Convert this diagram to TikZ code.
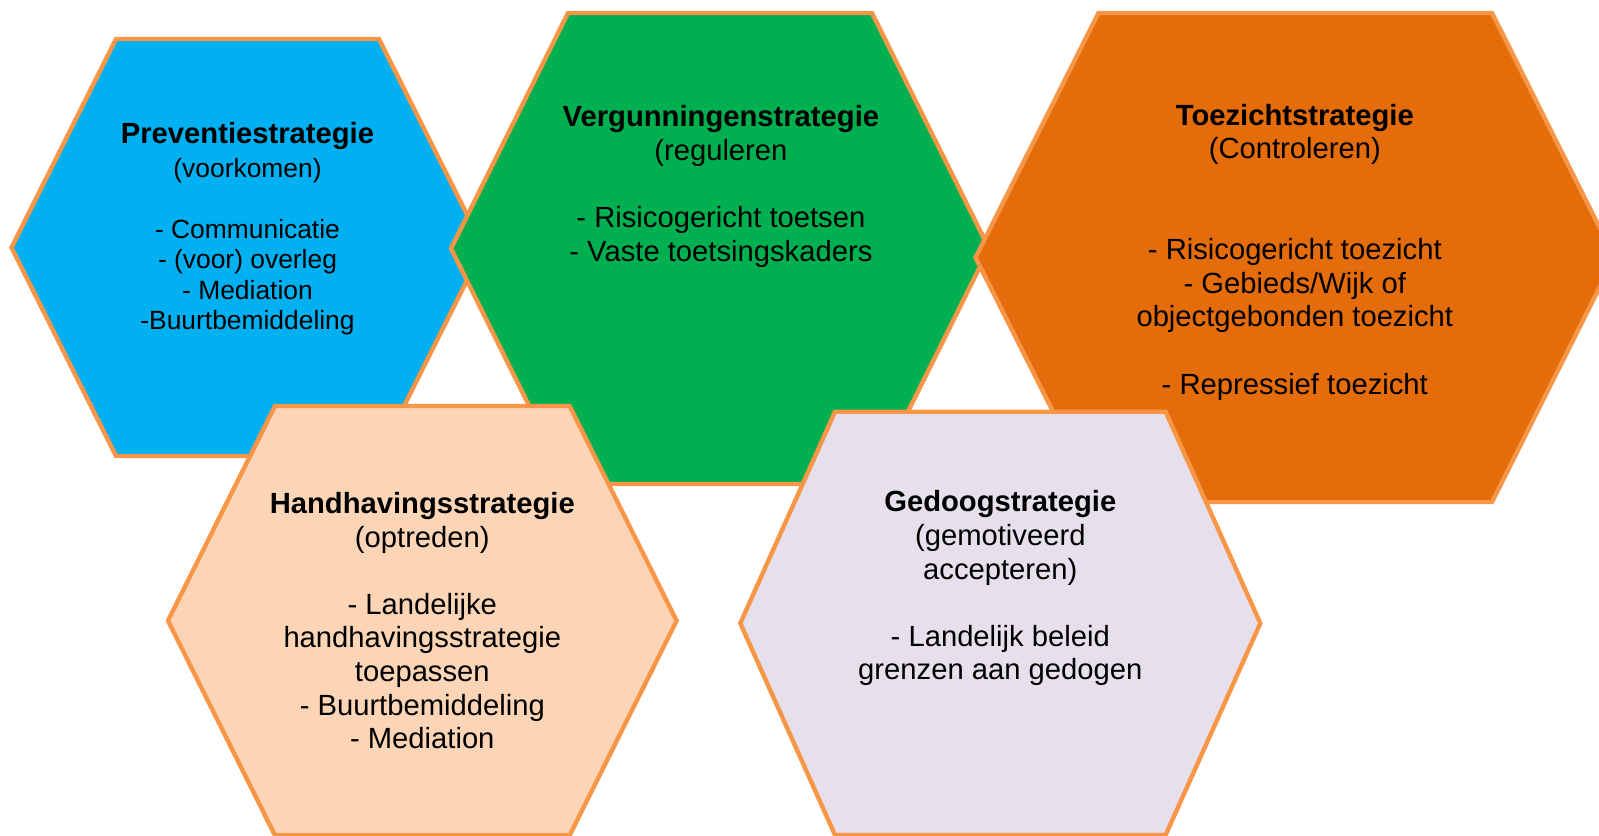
\documentclass[tikz,border=0pt]{standalone}
\usepackage{fontspec}
\setmainfont{Liberation Sans}
\definecolor{prevblue}{HTML}{00B0F0}
\definecolor{vergreen}{HTML}{00B050}
\definecolor{toezorange}{HTML}{E46C0A}
\definecolor{handpeach}{HTML}{FBD5B5}
\definecolor{gedlilac}{HTML}{E5E0EC}
\definecolor{hexline}{HTML}{F79646}
\tikzset{
 hex/.style
  = {draw=hexline, line width=2.2pt, line join=miter},
 txt/.style
  = {anchor=north, inner sep=0pt, align=center,
     font=\fontsize{14.6}{16.8}\selectfont},
 txtsmall/.style
  = {txt, font=\fontsize{13.2}{15.25}\selectfont},
}

\begin{document}
\begin{tikzpicture}[x=0.5pt, y=-0.5pt]
\useasboundingbox (0,0) rectangle (1599,835);
\clip (0,0) rectangle (1599,835);

% Preventie
\draw[hex, fill=prevblue] (11.5,247.5) -- (116,39) -- (379,39) -- (483.5,247.5) -- (379,456) -- (116,456) -- cycle;
\node[txtsmall] (prev) at (247.5,122) {{\fontsize{14.6}{15.25}\selectfont\bfseries Preventiestrategie}\\[1.5pt]
  (voorkomen)\\ \mbox{}\\ - Communicatie\\ - (voor) overleg\\ - Mediation\\ -Buurtbemiddeling};

% Vergunningen
\draw[hex, fill=vergreen] (451,248.5) -- (568,13) -- (872,13) -- (989,248.5) -- (872,484) -- (568,484) -- cycle;
\node[txt] (verg) at (720.9,105.4) {\textbf{Vergunningenstrategie}\\ (reguleren\\ \mbox{}\\
  - Risicogericht toetsen\\ - Vaste toetsingskaders};

% Toezicht
\draw[hex, fill=toezorange] (975.5,257.5) -- (1098.5,13) -- (1492,13) -- (1614.5,257.5) -- (1492,502) -- (1098.5,502) -- cycle;
\node[txt] (toez) at (1294.8,103.7) {\textbf{Toezichtstrategie}\\ (Controleren)\\ \mbox{}\\ \mbox{}\\
  - Risicogericht toezicht\\ - Gebieds/Wijk of\\ objectgebonden toezicht\\ \mbox{}\\ - Repressief toezicht};

% Handhaving
\draw[hex, fill=handpeach] (168,620.7) -- (275,406) -- (569.6,406) -- (676.6,620.7) -- (569.6,835.4) -- (275,835.4) -- cycle;
\node[txt] (hand) at (422.3,492) {\textbf{Handhavingsstrategie}\\ (optreden)\\ \mbox{}\\
  - Landelijke\\ handhavingsstrategie\\ toepassen\\ - Buurtbemiddeling\\ - Mediation};

% Gedogen
\draw[hex, fill=gedlilac] (740.3,623.3) -- (835,411.7) -- (1165.6,411.7) -- (1260.3,623.3) -- (1165.6,835) -- (835,835) -- cycle;
\node[txt] (gedo) at (1000.3,490.4) {\textbf{Gedoogstrategie}\\ (gemotiveerd\\ accepteren)\\ \mbox{}\\
  - Landelijk beleid\\ grenzen aan gedogen};

\end{tikzpicture}
\end{document}
